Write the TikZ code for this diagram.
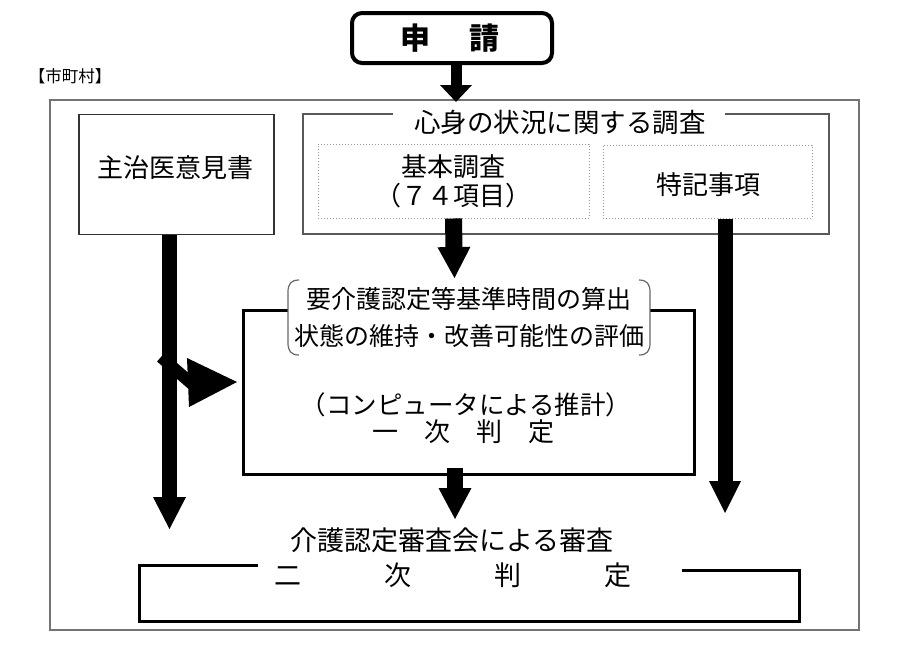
\documentclass[tikz,border=0pt]{standalone}
\usepackage{fontspec}
\setmainfont{Noto Sans CJK JP}
\usetikzlibrary{arrows.meta}
\begin{document}
\begin{tikzpicture}[x=1pt,y=-1pt,
  jp/.style={inner sep=0pt, font=\fontsize{#1}{#1}\selectfont},
  frame/.style={draw=black!55, line width=1.5pt},
  thinbox/.style={draw=black!80, line width=1.3pt},
  survey/.style={draw=black!65, line width=1.3pt},
  dotbox/.style={draw=black!40, dotted, line width=1pt},
  heavy/.style={draw=black, line width=3pt},
  reqbox/.style={draw=black, line width=4pt, rounded corners=10pt},
  bracketline/.style={draw=black!60, line width=1.2pt},
  arr/.style n args={3}{draw=black, line width=#1, -{Triangle[width=#2, length=#3, line width=0pt]}}
]
\useasboundingbox (0,0) rectangle (912,657);

% outer frame and municipality label
\draw[frame] (50,100) rectangle (859,630);
\node[jp=16.5] (muni) at (70,76) {【市町村】};

% application
\node[reqbox, minimum width=200pt, minimum height=50pt] (req) at (452,38) {};
\node[inner sep=0pt, font=\fontsize{30}{30}\selectfont\bfseries] (reqt) at (450,38) {申\hspace{40pt}請};
\coordinate (frametop) at (456,102);
\draw[arr={11pt}{32pt}{17pt}] ([xshift=4pt]req.south) -- (frametop);

% doctor's opinion
\node[thinbox, minimum width=195pt, minimum height=120pt] (doc) at (176.5,174.5) {};
\node[jp=26] (doct) at (175,168) {主治医意見書};

% survey box
\draw[survey] (393,114) -- (303,114) -- (303,234) -- (829,234) -- (829,114) -- (725,114);
\node[jp=26.5] (surv) at (560,122) {心身の状況に関する調査};
\node[dotbox, minimum width=271pt, minimum height=74pt] (basic) at (453.5,181) {};
\node[jp=26] (basict1) at (453.5,167) {基本調査};
\node[jp=26] (basict2) at (453.5,196) {（７４項目）};
\node[dotbox, minimum width=209pt, minimum height=73pt] (spec) at (707.5,181.5) {};
\node[jp=26] (spect) at (708,185) {特記事項};

% first judgement
\draw[heavy] (288,310) -- (243,310) -- (243,474) -- (694,474) -- (694,310) -- (650,310);
\draw[bracketline] (299,280) .. controls (291,280) and (288,284) .. (288,292) -- (288,343) .. controls (288,351) and (291,355) .. (299,355);
\draw[bracketline] (639,280) .. controls (647,280) and (650,284) .. (650,292) -- (650,343) .. controls (650,351) and (647,355) .. (639,355);
\node[inner sep=0pt, align=center, font=\fontsize{25}{37}\selectfont] (calc) at (469,317) {要介護認定等基準時間の算出\\状態の維持・改善可能性の評価};
\node[jp=25.5] (comp) at (466,405) {（コンピュータによる推計）};
\node[jp=26] (first) at (463.5,432) {一　次　判　定};

% connectors
\coordinate (calctop) at (454.5,278);
\draw[arr={17pt}{33pt}{31pt}] (basic.south) -- (calctop);
\coordinate (leftend) at (169.5,529);
\draw[arr={15pt}{33pt}{32pt}] ([xshift=-7pt]doc.south) -- (leftend);
\draw[draw=black, line width=12pt] (161,357) -- (192,384);
\fill[black] (187,358) -- (237,382) -- (189,407) -- cycle;
\coordinate (rightend) at (725,513);
\draw[arr={15pt}{32pt}{32pt}] ([xshift=17.5pt]spec.south) -- (rightend);
\coordinate (midstart) at (455,468);
\coordinate (midend) at (455,519);
\draw[arr={16pt}{33pt}{31pt}] (midstart) -- (midend);

% second judgement
\node[jp=27] (board) at (452,540) {介護認定審査会による審査};
\node[jp=27] (second) at (452.5,575) {二\hspace{83pt}次\hspace{83pt}判\hspace{83pt}定};
\draw[heavy] (258,565) -- (139,565) -- (139,621) -- (799,621) -- (799,570) -- (682,570);
\end{tikzpicture}
\end{document}
